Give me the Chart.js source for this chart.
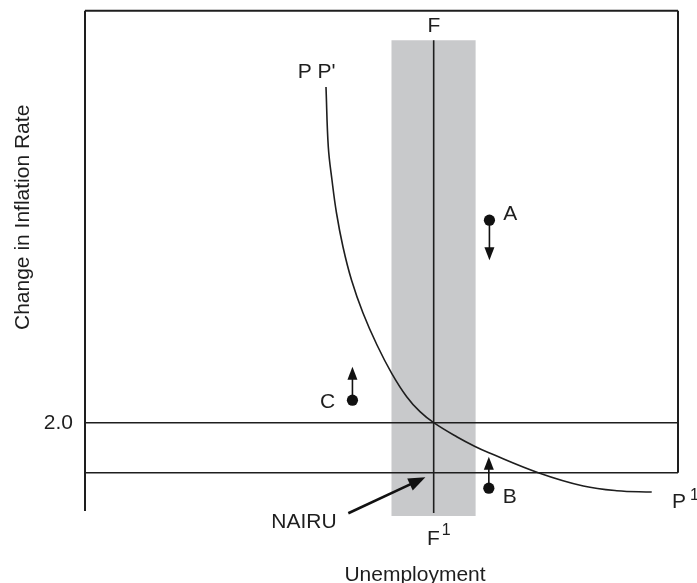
<!DOCTYPE html>
<html><head><meta charset="utf-8">
<script src="https://cdn.jsdelivr.net/npm/chart.js@4/dist/chart.umd.min.js"></script>
<style>html,body{margin:0;padding:0;background:#fff;overflow:hidden}#wrap{width:697px;height:583px}</style>
</head><body><div id="wrap"><canvas id="c" width="697" height="583"></canvas></div>
<script>
// ---- data ----
const xRange = [0, 100];            // unemployment (arbitrary units)
const yRange = [0.134, 10.24];      // change in inflation rate
const curveX = [40.64, 41.03, 41.65, 42.41, 43.51, 44.94, 46.88, 49.24, 51.72, 54.25, 56.49, 58.80, 62.68, 65.77, 68.01, 76.44, 84.03, 89.66, 95.57];
const curveY = [8.714, 7.514, 6.854, 6.194, 5.514, 4.854, 4.194, 3.554, 2.988, 2.520, 2.220, 2.000, 1.718, 1.524, 1.404, 1.000, 0.734, 0.640, 0.614];
const pointNames = ['A', 'B', 'C'];
const pointX = [68.2, 68.1, 45.1];
const pointY = [6.05, 0.69, 2.45];
const arrowTipY = [5.25, 1.32, 3.12];
const nairuX = 58.8;
const nairuLineY = [0.194, 9.65];
const bandX = [51.65, 65.9];
const bandTop = 9.65;
const levelLines = [2.0, 1.0];
const frameLeftBottom = 0.234;
const yTicks = [2.0];
const yTickLabels = ['2.0'];
const nairuArrowFrom = [44.4, 0.188];
const nairuArrowTo = [57.4, 0.908];

// ---- chart ----
const ink = '#1e1e1e';
const xMin = xRange[0], xMax = xRange[1], yMin = yRange[0], yMax = yRange[1];
const seg = (a, b) => [{x: a[0], y: a[1]}, {x: b[0], y: b[1]}];
const lineDs = (data, w) => ({type: 'line', data, borderColor: ink, borderWidth: w, pointRadius: 0, fill: false, clip: false, order: 1});

const datasets = [
  // frame
  lineDs(seg([xMin, frameLeftBottom], [xMin, yMax]), 2),
  lineDs(seg([xMin, yMax], [xMax, yMax]), 2),
  lineDs(seg([xMax, yMax], [xMax, levelLines[1]]), 2),
  // level lines
  ...levelLines.map(v => lineDs(seg([xMin, v], [xMax, v]), 1.6)),
  // NAIRU vertical
  lineDs(seg([nairuX, nairuLineY[0]], [nairuX, nairuLineY[1]]), 1.6),
  // Phillips curve
  {type: 'line', data: curveX.map((x, i) => ({x, y: curveY[i]})), borderColor: ink, borderWidth: 1.6,
   pointRadius: 0, fill: false, tension: 0.4, clip: false, order: 1},
  // dots
  {type: 'scatter', data: pointX.map((x, i) => ({x, y: pointY[i]})), backgroundColor: '#111', borderColor: '#111',
   pointRadius: 5.6, pointHoverRadius: 5.6, borderWidth: 0, clip: false, order: 0},
  // gray band
  {type: 'line', data: seg([bandX[0], bandTop], [bandX[1], bandTop]), borderWidth: 0, borderColor: 'rgba(0,0,0,0)',
   backgroundColor: '#c8c9cb', pointRadius: 0, fill: {value: yMin}, order: 10}
];

const labels = [
  {t: 'F', x: 58.85, y: 9.82, align: 'center', size: 21},
  {t: "P P'", x: 39.07, y: 8.888, align: 'center', size: 21},
  {t: 'A', x: 70.54, y: 6.054, align: 'left', size: 21},
  {t: 'C', x: 39.63, y: 2.288, align: 'left', size: 21},
  {t: 'B', x: 70.44, y: 0.388, align: 'left', size: 21},
  {t: 'P', x: 98.99, y: 0.304, align: 'left', size: 21},
  {t: '1', x: 102.02, y: 0.454, align: 'left', size: 16},
  {t: 'F', x: 58.74, y: -0.446, align: 'center', size: 21},
  {t: '1', x: 60.15, y: -0.246, align: 'left', size: 16},
  {t: 'NAIRU', x: 36.93, y: -0.112, align: 'center', size: 21},
  {t: 'Unemployment', x: 55.65, y: -1.16, align: 'center', size: 21}
];
const yTitle = 'Change in Inflation Rate';

function arrow(ctx, x1, y1, x2, y2, w, headLen, headW) {
  const a = Math.atan2(y2 - y1, x2 - x1);
  const bx = x2 - Math.cos(a) * headLen, by = y2 - Math.sin(a) * headLen;
  ctx.beginPath(); ctx.moveTo(x1, y1); ctx.lineTo(bx + Math.cos(a) * 2, by + Math.sin(a) * 2);
  ctx.lineWidth = w; ctx.strokeStyle = '#111'; ctx.stroke();
  ctx.beginPath(); ctx.moveTo(x2, y2);
  ctx.lineTo(bx + Math.sin(a) * headW / 2, by - Math.cos(a) * headW / 2);
  ctx.lineTo(bx - Math.sin(a) * headW / 2, by + Math.cos(a) * headW / 2);
  ctx.closePath(); ctx.fillStyle = '#111'; ctx.fill();
}

const annot = {
  id: 'annot',
  afterDatasetsDraw(chart) {
    const {ctx, scales: {x, y}, chartArea} = chart;
    ctx.save();
    // arrows at points
    pointX.forEach((px, i) => {
      arrow(ctx, x.getPixelForValue(px), y.getPixelForValue(pointY[i]), x.getPixelForValue(px), y.getPixelForValue(arrowTipY[i]), 1.6, 13, 10);
    });
    arrow(ctx, x.getPixelForValue(nairuArrowFrom[0]), y.getPixelForValue(nairuArrowFrom[1]),
          x.getPixelForValue(nairuArrowTo[0]), y.getPixelForValue(nairuArrowTo[1]), 2.6, 17, 13);
    ctx.fillStyle = ink;
    ctx.textBaseline = 'alphabetic';
    labels.forEach(l => {
      ctx.font = l.size + 'px "Liberation Sans", Arial, sans-serif';
      ctx.textAlign = l.align;
      ctx.fillText(l.t, x.getPixelForValue(l.x), y.getPixelForValue(l.y));
    });
    // y tick labels
    ctx.font = '21px "Liberation Sans", Arial, sans-serif';
    ctx.textAlign = 'right';
    yTicks.forEach((v, i) => ctx.fillText(yTickLabels[i], chartArea.left - 12, y.getPixelForValue(v) + 6));
    // y title
    ctx.translate(28.5, (chartArea.top + chartArea.bottom) / 2 - 46);
    ctx.rotate(-Math.PI / 2);
    ctx.textAlign = 'center';
    ctx.fillText(yTitle, 0, 0);
    ctx.restore();
  }
};

new Chart(document.getElementById('c'), {
  type: 'line',
  data: {datasets},
  options: {
    responsive: false, animation: false, devicePixelRatio: 1,
    layout: {padding: {left: 85, top: 10.7, right: 19, bottom: 67}},
    plugins: {legend: {display: false}, tooltip: {enabled: false}},
    scales: {
      x: {type: 'linear', min: xMin, max: xMax, display: false},
      y: {type: 'linear', min: yMin, max: yMax, display: false}
    }
  },
  plugins: [annot]
});
</script></body></html>
